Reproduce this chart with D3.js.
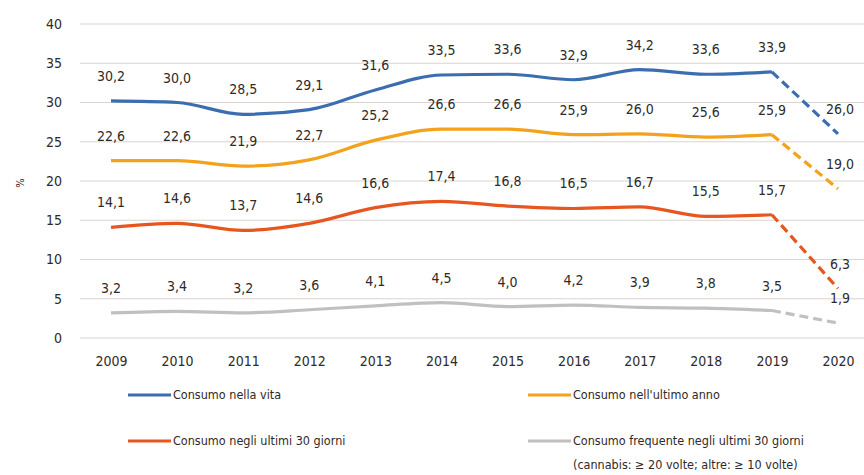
<!DOCTYPE html>
<html>
<head>
<meta charset="utf-8">
<script src="https://cdn.jsdelivr.net/npm/d3@7"></script>
<style>
  body { margin: 0; background: #fff; }
  svg { display: block; font-family: "DejaVu Sans Condensed", "Liberation Sans Narrow", sans-serif; }
</style>
</head>
<body>
<svg id="chart" width="864" height="475"></svg>
<script>
const years = [2009, 2010, 2011, 2012, 2013, 2014, 2015, 2016, 2017, 2018, 2019, 2020];
const yTicks = [0, 5, 10, 15, 20, 25, 30, 35, 40];

const vita = [30.2, 30.0, 28.5, 29.1, 31.6, 33.5, 33.6, 32.9, 34.2, 33.6, 33.9, 26.0];
const anno = [22.6, 22.6, 21.9, 22.7, 25.2, 26.6, 26.6, 25.9, 26.0, 25.6, 25.9, 19.0];
const giorni30 = [14.1, 14.6, 13.7, 14.6, 16.6, 17.4, 16.8, 16.5, 16.7, 15.5, 15.7, 6.3];
const frequente = [3.2, 3.4, 3.2, 3.6, 4.1, 4.5, 4.0, 4.2, 3.9, 3.8, 3.5, 1.9];

const seriesNames = [
    "Consumo nella vita",
    "Consumo nell'ultimo anno",
    "Consumo negli ultimi 30 giorni",
    "Consumo frequente negli ultimi 30 giorni"
];
const seriesColors = ["#3b6eb0", "#f4a21c", "#e8561f", "#c2c0bf"];
const seriesValues = [vita, anno, giorni30, frequente];

const TEXT = "#2f2a28";
const svg = d3.select("#chart");

// area del grafico
const x = d3.scalePoint().domain(years).range([111, 838]);
const y = d3.scaleLinear().domain([0, 40]).range([338, 24]);

const fmt = v => d3.format(".1f")(v).replace(".", ",");

// griglia
svg.append("g")
    .selectAll("line")
    .data(yTicks)
    .join("line")
    .attr("x1", 80)
    .attr("x2", 864)
    .attr("y1", d => y(d))
    .attr("y2", d => y(d))
    .attr("stroke", "#dcd3cf")
    .attr("stroke-width", 1);

// asse y
const yAxis = d3.axisLeft(y).tickValues(yTicks).tickSize(0).tickPadding(0);
svg.append("g")
    .attr("transform", "translate(62,0)")
    .call(yAxis)
    .call(g => g.select(".domain").remove())
    .call(g => g.selectAll("text")
        .attr("font-size", 14)
        .attr("fill", TEXT)
        .attr("font-family", "DejaVu Sans Condensed"));

// asse x
const xAxis = d3.axisBottom(x).tickSize(0).tickPadding(0).tickFormat(d3.format("d"));
svg.append("g")
    .attr("transform", "translate(0,356)")
    .call(xAxis)
    .call(g => g.select(".domain").remove())
    .call(g => g.selectAll("text")
        .attr("font-size", 14)
        .attr("fill", TEXT)
        .attr("font-family", "DejaVu Sans Condensed"));

// etichetta %
svg.append("text")
    .attr("transform", "translate(24,183) rotate(-90)")
    .attr("text-anchor", "middle")
    .attr("font-size", 11)
    .attr("fill", TEXT)
    .text("%");

const line = d3.line()
    .x((d, i) => x(years[i]))
    .y(d => y(d))
    .curve(d3.curveMonotoneX);

const lineDash = d3.line()
    .x(d => x(d.year))
    .y(d => y(d.v));

seriesValues.forEach((vals, s) => {
    const g = svg.append("g");
    // tratto continuo 2009-2019
    g.append("path")
        .datum(vals.slice(0, 11))
        .attr("fill", "none")
        .attr("stroke", seriesColors[s])
        .attr("stroke-width", 3.2)
        .attr("stroke-linejoin", "round")
        .attr("d", line);
    // tratto tratteggiato 2019-2020
    g.append("path")
        .datum([{ year: 2019, v: vals[10] }, { year: 2020, v: vals[11] }])
        .attr("fill", "none")
        .attr("stroke", seriesColors[s])
        .attr("stroke-width", 3.2)
        .attr("stroke-dasharray", "9,5")
        .attr("d", lineDash);
    // etichette
    g.selectAll("text")
        .data(vals)
        .join("text")
        .attr("x", (d, i) => x(years[i]) + (i === 11 ? 2 : 0))
        .attr("y", d => y(d) - 20)
        .attr("text-anchor", "middle")
        .attr("font-size", 14)
        .attr("fill", TEXT)
        .text(fmt);
});

// legenda
const legendPos = [[128, 395], [528, 395], [128, 441], [528, 441]];
const legend = svg.append("g")
    .selectAll("g")
    .data(seriesNames)
    .join("g")
    .attr("transform", (d, i) => `translate(${legendPos[i]})`);

legend.append("line")
    .attr("x1", 0)
    .attr("x2", 43)
    .attr("stroke", (d, i) => seriesColors[i])
    .attr("stroke-width", 3);

legend.append("text")
    .attr("x", 45)
    .attr("y", 4)
    .attr("font-size", 12.5)
    .attr("fill", TEXT)
    .text(d => d);

svg.append("text")
    .attr("x", 573)
    .attr("y", 469)
    .attr("font-size", 12.5)
    .attr("fill", TEXT)
    .text("(cannabis: \u2265 20 volte; altre: \u2265 10 volte)");
</script>
</body>
</html>
